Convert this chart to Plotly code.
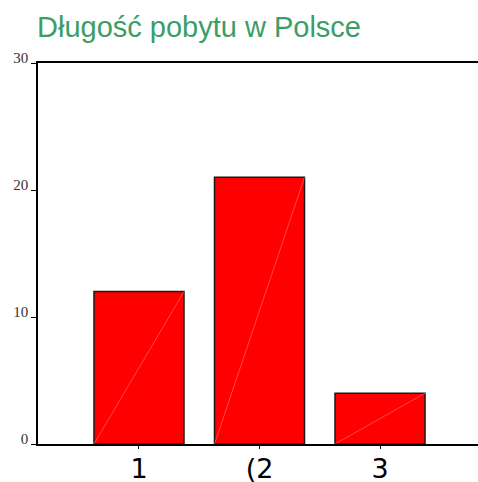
import plotly.graph_objects as go

categories = ["1", "(2", "3"]
values = [12, 21, 4]
y_ticks = [0, 10, 20, 30]

bar_width = 0.747

fig = go.Figure()

fig.add_trace(go.Bar(
    x=list(range(len(categories))),
    y=values,
    width=bar_width,
    marker=dict(color="#ff0000", line=dict(color="#1a1a1a", width=1.5)),
    showlegend=False,
))

# faint diagonal seams inside each bar
for i, v in enumerate(values):
    fig.add_trace(go.Scatter(
        x=[i - bar_width / 2, i + bar_width / 2],
        y=[0, v],
        mode="lines",
        line=dict(color="rgba(255,170,170,0.7)", width=0.6),
        hoverinfo="skip",
        showlegend=False,
    ))

fig.update_layout(
    width=478,
    height=482,
    margin=dict(l=38, r=0, t=63, b=38),
    plot_bgcolor="white",
    paper_bgcolor="white",
    title=dict(
        text="Długość pobytu w Polsce",
        x=37 / 478, xanchor="left",
        y=1 - 27 / 482, yanchor="middle",
        font=dict(family="Liberation Sans, Arial", size=29, color="#3a9e66"),
    ),
    xaxis=dict(
        range=[-0.838, 2.813],
        tickmode="array",
        tickvals=list(range(len(categories))),
        ticktext=categories,
        showline=True, linecolor="black", linewidth=1.5, mirror=True,
        ticks="outside", ticklen=3, tickcolor="black",
        showgrid=False, zeroline=False, automargin=False,
        ticklabelstandoff=-3,
        tickfont=dict(family="DejaVu Sans, Verdana", size=27, color="black"),
    ),
    yaxis=dict(
        range=[0, 30],
        tickmode="array",
        tickvals=y_ticks,
        showline=True, linecolor="black", linewidth=1.5,
        ticks="outside", ticklen=5, tickcolor="black",
        showgrid=False, zeroline=False, automargin=False,
        ticklabelshift=-5,
        tickfont=dict(family="Liberation Serif, Times New Roman", size=15, color="#333333"),
    ),
)

# drop the default page margin so the figure fills the window
fig.write_html(
    "out.html",
    config={"displayModeBar": False},
    post_script="document.body.style.margin='0';document.body.style.overflow='hidden';",
)
